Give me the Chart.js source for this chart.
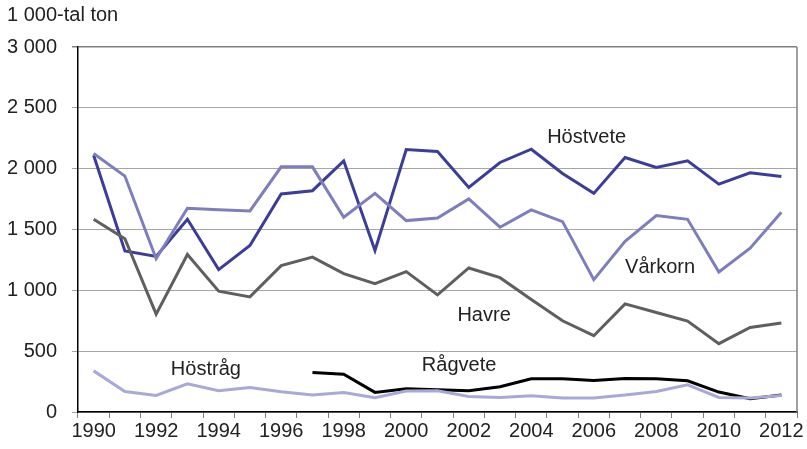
<!DOCTYPE html>
<html>
<head>
<meta charset="utf-8">
<script src="https://cdn.jsdelivr.net/npm/chart.js@4"></script>
<style>
  html, body { margin: 0; padding: 0; background: #fff; }
  #wrap { width: 807px; height: 449px; }
</style>
</head>
<body>
<div id="wrap"><canvas id="grafico" width="807" height="449"></canvas></div>
<script>
// === DATI ===
const anni = ['1990','1991','1992','1993','1994','1995','1996','1997','1998','1999','2000','2001',
              '2002','2003','2004','2005','2006','2007','2008','2009','2010','2011','2012'];
const hostvete = [2110,1323,1279,1584,1170,1369,1792,1819,2064,1328,2157,2141,
                  1846,2051,2160,1961,1797,2092,2010,2064,1873,1966,1936];
const varkorn  = [2124,1939,1260,1674,1663,1653,2015,2015,1601,1797,1573,1595,
                  1751,1519,1661,1565,1088,1402,1614,1584,1151,1347,1642];
const havre    = [1584,1424,804,1295,993,946,1203,1273,1137,1055,1154,963,
                  1184,1104,924,750,627,889,818,747,562,695,731];
const hostrag  = [338,169,136,232,175,202,166,139,161,117,172,175,
                  128,120,134,115,115,139,169,224,120,115,136];
const ragvete  = [null,null,null,null,null,null,null,325,311,161,191,183,
                  175,207,273,273,259,275,273,256,164,109,139];
const yTicks = [0,500,1000,1500,2000,2500,3000];

// etichette delle serie: [testo, indice anno, valore]
const etichette = [
  ['Höstvete', 15.77, 2254],
  ['Vårkorn', 18.12, 1189],
  ['Havre', 12.49, 795],
  ['Rågvete', 11.69, 385],
  ['Höstråg', 3.59, 352]
];

const FONT = '"Liberation Sans", Arial, sans-serif';

function formatta(v) {
  if (v < 1000) return String(v);
  return Math.floor(v / 1000) + ' ' + String(v % 1000).padStart(3, '0');
}

const pluginTesti = {
  id: 'testi',
  afterDatasetsDraw(chart) {
    const c = chart.ctx;
    const x = chart.scales.x, y = chart.scales.y;
    c.save();
    c.font = '20px ' + FONT;
    c.fillStyle = '#222';
    c.textAlign = 'center';
    c.textBaseline = 'middle';
    etichette.forEach(e => {
      c.fillText(e[0], x.getPixelForValue(e[1]), y.getPixelForValue(e[2]));
    });
    // bordo destro
    const a = chart.chartArea;
    c.strokeStyle = '#808080';
    c.lineWidth = 1.5;
    c.beginPath();
    c.moveTo(a.right, a.top);
    c.lineTo(a.right, a.bottom);
    c.stroke();
    // unità
    c.textAlign = 'left';
    c.fillText('1 000-tal ton', 7, 15);
    c.restore();
  }
};

function serie(label, data, colore) {
  return {
    label: label,
    data: data,
    borderColor: colore,
    backgroundColor: colore,
    borderWidth: 3,
    pointRadius: 0,
    tension: 0,
    spanGaps: false
  };
}

const ctx = document.getElementById('grafico').getContext('2d');
const chart = new Chart(ctx, {
  type: 'line',
  data: {
    labels: anni,
    datasets: [
      serie('Höstråg', hostrag, '#a9a9d9'),
      serie('Havre', havre, '#5f5f5f'),
      serie('Vårkorn', varkorn, '#7e7ebe'),
      serie('Höstvete', hostvete, '#3d3d99'),
      serie('Rågvete', ragvete, '#000000')
    ]
  },
  options: {
    responsive: false,
    animation: false,
    layout: { padding: { left: 7, right: 10, top: 47, bottom: 0 } },
    plugins: {
      legend: { display: false },
      tooltip: { enabled: false }
    },
    scales: {
      x: {
        type: 'category',
        offset: true,
        afterFit: s => { s.height = 37; },
        grid: {
          offset: true,
          drawOnChartArea: false,
          drawTicks: true,
          tickLength: 6,
          tickColor: '#808080'
        },
        border: { color: '#000', width: 1.5 },
        ticks: {
          autoSkip: false,
          maxRotation: 0,
          minRotation: 0,
          padding: 1,
          color: '#222',
          font: { family: FONT, size: 20 },
          callback: (v, i) => (i % 2 === 0 ? anni[i] : '')
        }
      },
      y: {
        min: 0,
        max: 3000,
        afterBuildTicks: s => { s.ticks = yTicks.map(v => ({ value: v })); },
        afterFit: s => { s.width = 71; },
        grid: {
          color: c => (c.tick && c.tick.value === 3000 ? '#808080' : '#a6a6a6'),
          lineWidth: c => (c.tick && c.tick.value === 3000 ? 1.5 : 1),
          tickLength: 6
        },
        border: { color: '#000', width: 1.5 },
        ticks: {
          padding: 15,
          color: '#222',
          font: { family: FONT, size: 20 },
          callback: v => formatta(v)
        }
      }
    }
  },
  plugins: [pluginTesti]
});
</script>
</body>
</html>
